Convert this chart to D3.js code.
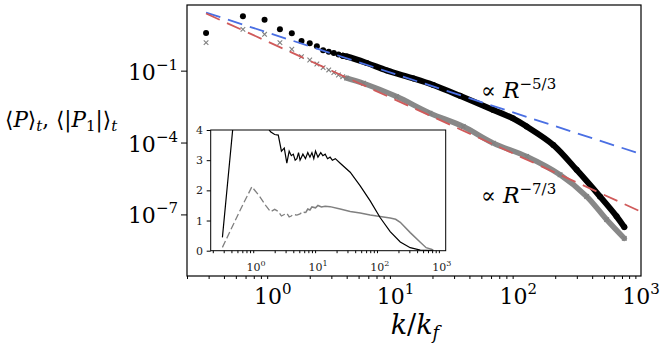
<!DOCTYPE html>
<html>
<head>
<meta charset="utf-8">
<script src="https://cdn.jsdelivr.net/npm/d3@7"></script>
<style>
body{margin:0;background:#fff;}
svg{display:block;}
</style>
</head>
<body>
<script>
// k/kf for the first (resolved) shells
var kLow = [0.286, 0.571, 0.857, 1.143, 1.429, 1.714, 2.0, 2.286, 2.571, 2.857, 3.143, 3.429, 3.714];
var pLow = [3.72, 18.5, 13.3, 5.31, 3.61, 1.73, 1.39, 1.04, 0.708, 0.619, 0.55, 0.473, 0.422];
var p1Low = [1.47, 5.31, 3.29, 1.47, 0.78, 0.383, 0.279, 0.19, 0.133, 0.107, 0.0826, 0.066, 0.056];

// dense part of <P>_t (black)
var kBand = [3.714, 4.0, 5.83, 8.48, 14, 20.3, 33.5, 62.6, 90.5, 117, 193, 299, 463, 632, 731];
var pBand = [0.422, 0.389, 0.209, 0.102, 0.0473, 0.0251, 0.00891, 0.00229, 0.00102, 0.000468, 7.94e-5, 7.24e-6, 5.62e-7, 8.32e-8, 2.95e-8];

// dense part of <|P1|>_t (grey)
var kBand1 = [4.0, 5.47, 10.2, 19.1, 35.6, 62.6, 117, 219, 361, 525, 731];
var p1Band = [0.049, 0.0299, 0.00826, 0.00168, 0.000465, 9.44e-5, 2.61e-5, 4.51e-6, 5.62e-7, 6.03e-8, 1.0e-8];

// reference slopes
var guideK = [0.286, 1000];
var guide53 = [26.6, 3.3e-5];
var guide73 = [24.2, 1.3e-7];

// inset: compensated spectra
var insetK = [0.286, 0.571, 0.857, 1.143, 1.429, 1.714, 2.0, 2.286, 2.571, 2.857, 3.143, 3.429, 3.714, 4.0, 4.286, 4.571, 4.857, 5.143, 5.714, 6.286, 6.857, 7.43, 8.0, 8.57, 9.14, 10, 11.1, 12, 13.1, 14.3, 15.7, 17.1, 19.1, 22.9, 33.2, 48.2, 69.9, 101, 147, 214, 310, 451, 731];
var insetP = [0.44, 6.9, 9.0, 7.0, 4.18, 3.94, 3.85, 3.83, 3.3, 3.4, 2.9, 3.3, 3.15, 3.2, 3.0, 3.05, 3.25, 3.0, 3.2, 3.05, 3.25, 3.1, 3.25, 3.05, 3.3, 3.1, 3.25, 3.15, 3.2, 3.05, 3.1, 3.0, 3.05, 2.9, 2.6, 2.15, 1.65, 1.1, 0.63, 0.29, 0.1, 0.02, 0.0];
var insetK1 = [0.286, 0.571, 0.857, 1.143, 1.429, 1.714, 2.0, 2.286, 2.571, 2.857, 3.143, 3.429, 3.714, 4.0, 4.571, 5.143, 5.714, 6.286, 6.857, 7.43, 8.0, 9.14, 10, 11.4, 13.1, 15.7, 22.9, 33.2, 48.2, 69.9, 101, 147, 180, 214, 310, 451, 560, 700, 731];
var insetP1 = [0.11, 1.4, 2.12, 1.8, 1.5, 1.29, 1.37, 1.3, 1.15, 1.2, 1.24, 1.12, 1.15, 1.2, 1.18, 1.22, 1.3, 1.25, 1.38, 1.35, 1.45, 1.42, 1.5, 1.45, 1.47, 1.46, 1.38, 1.3, 1.25, 1.18, 1.13, 1.08, 1.04, 0.94, 0.6, 0.28, 0.1, 0.04, 0.03];

var xMajor = [1, 10, 100, 1000];
var yMajor = [1e-1, 1e-4, 1e-7];
var yExp = ["\u22121", "\u22124", "\u22127"];
var xExp = ["0", "1", "2", "3"];
var insetYTicks = [0, 1, 2, 3, 4];

var serif = "DejaVu Serif";
var width = 664, height = 348;
var svg = d3.select("body").append("svg").attr("width", width).attr("height", height)
  .style("font-family", serif);

var x = d3.scaleLog().domain([0.2, 1000]).range([187, 641]);
var y = d3.scaleLog().domain([Math.pow(10, -9.57), Math.pow(10, 1.74)]).range([276, 5]);

svg.append("clipPath").attr("id", "mainclip")
  .append("rect").attr("x", 187).attr("y", 5).attr("width", 454).attr("height", 271);

var plot = svg.append("g").attr("clip-path", "url(#mainclip)");

function pts(ks, vs) { return ks.map(function(k, i){ return [k, vs[i]]; }); }

var line = d3.line().x(function(d){ return x(d[0]); }).y(function(d){ return y(d[1]); })
  .curve(d3.curveCatmullRom);

// grey |P1| band and crosses
plot.append("path").attr("d", line(pts(kBand1, p1Band)))
  .attr("fill", "none").attr("stroke", "#888").attr("stroke-width", 5.5)
  .attr("stroke-linecap", "round").attr("stroke-linejoin", "round");
plot.selectAll(".cross").data(pts(kLow, p1Low).concat(pts(kBand1, p1Band)))
  .enter().append("path").attr("class", "cross")
  .attr("transform", function(d){ return "translate(" + x(d[0]) + "," + y(d[1]) + ")"; })
  .attr("d", "M-2.3,-2.3L2.3,2.3M-2.3,2.3L2.3,-2.3")
  .attr("stroke", "#808080").attr("stroke-width", 1.1);

// black P band and dots
plot.append("path").attr("d", line(pts(kBand, pBand)))
  .attr("fill", "none").attr("stroke", "#000").attr("stroke-width", 6)
  .attr("stroke-linecap", "round").attr("stroke-linejoin", "round");
plot.selectAll(".dot").data(pts(kLow, pLow).concat(pts(kBand, pBand)))
  .enter().append("circle").attr("class", "dot")
  .attr("cx", function(d){ return x(d[0]); })
  .attr("cy", function(d){ return y(d[1]); })
  .attr("r", 3).attr("fill", "#000");

// guide lines
var straight = d3.line().x(function(d){ return x(d[0]); }).y(function(d){ return y(d[1]); });
plot.append("path").attr("d", straight(pts(guideK, guide53)))
  .attr("fill", "none").attr("stroke", "#4a6fe3").attr("stroke-width", 1.8).attr("stroke-dasharray", "15,8");
plot.append("path").attr("d", straight(pts(guideK, guide73)))
  .attr("fill", "none").attr("stroke", "#d05a5a").attr("stroke-width", 1.8).attr("stroke-dasharray", "15,8");

// frame
svg.append("rect").attr("x", 187).attr("y", 5).attr("width", 454).attr("height", 271)
  .attr("fill", "none").attr("stroke", "#000").attr("stroke-width", 1.2);

// x axis
var minorX = x.ticks().filter(function(v){ return xMajor.indexOf(v) < 0; });
var xAx = svg.append("g").attr("transform", "translate(0,276)");
xAx.call(d3.axisBottom(x).tickValues(xMajor).tickSize(5).tickFormat(""));
xAx.call(d3.axisBottom(x).tickValues(minorX).tickSize(3).tickFormat(""));
xAx.selectAll(".domain").remove();
xAx.selectAll("line").attr("stroke-width", 1);

xMajor.forEach(function(v, i){
  var t = svg.append("text").attr("x", x(v)).attr("y", 304).attr("text-anchor", "middle")
    .style("font-family", serif).attr("font-size", 22).text("10");
  t.append("tspan").attr("dy", -10).attr("font-size", 15).text(xExp[i]);
});

// y axis
var yAx = svg.append("g").attr("transform", "translate(187,0)");
yAx.call(d3.axisLeft(y).tickValues(yMajor).tickSize(6).tickFormat(""));
yAx.selectAll(".domain").remove();
yAx.selectAll("line").attr("stroke-width", 1);
yMajor.forEach(function(v, i){
  var t = svg.append("text").attr("x", 178).attr("y", y(v) + 9).attr("text-anchor", "end")
    .style("font-family", serif).attr("font-size", 22).text("10");
  t.append("tspan").attr("dy", -10).attr("font-size", 15).text(yExp[i]);
});

// axis labels
var xl = svg.append("text").attr("x", 415).attr("y", 334).attr("text-anchor", "middle")
  .style("font-family", serif).attr("font-size", 27);
xl.append("tspan").attr("font-style", "italic").text("k");
xl.append("tspan").text("/");
xl.append("tspan").attr("font-style", "italic").text("k");
xl.append("tspan").attr("font-style", "italic").attr("font-size", 18).attr("dy", 5).text("f");

var yl = svg.append("text").attr("x", 5).attr("y", 127).style("font-family", serif).attr("font-size", 21.5);
yl.append("tspan").text("\u27E8");
yl.append("tspan").attr("font-style", "italic").text("P");
yl.append("tspan").text("\u27E9");
yl.append("tspan").attr("font-style", "italic").attr("font-size", 15).attr("dy", 4).text("t");
yl.append("tspan").attr("dy", -4).text(", \u27E8|");
yl.append("tspan").attr("font-style", "italic").text("P");
yl.append("tspan").attr("font-size", 15).attr("dy", 4).text("1");
yl.append("tspan").attr("dy", -4).text("|\u27E9");
yl.append("tspan").attr("font-style", "italic").attr("font-size", 15).attr("dy", 4).text("t");

// annotations
function propTo(xp, yp, exp) {
  var t = svg.append("text").attr("x", xp).attr("y", yp).style("font-family", serif).attr("font-size", 22);
  t.append("tspan").text("\u221D ");
  t.append("tspan").attr("font-style", "italic").text("R");
  t.append("tspan").attr("dy", -9).attr("font-size", 15).text(exp);
}
propTo(481, 98, "\u22125/3");
propTo(481, 203, "\u22127/3");

// inset
var xi = d3.scaleLog().domain([0.185, 1160]).range([210.7, 445.7]);
var yi = d3.scaleLinear().domain([0, 4]).range([250.7, 130]);

svg.append("rect").attr("x", 210.7).attr("y", 130).attr("width", 235).attr("height", 120.7)
  .attr("fill", "#fff");
svg.append("clipPath").attr("id", "insetclip")
  .append("rect").attr("x", 210.7).attr("y", 130).attr("width", 235).attr("height", 120.7);

var ig = svg.append("g").attr("clip-path", "url(#insetclip)");
var iline = d3.line().x(function(d){ return xi(d[0]); }).y(function(d){ return yi(d[1]); });
var greyPts = pts(insetK1, insetP1);
// dashes only show where the signal is smooth; the noisy tail reads as solid
ig.append("path").attr("d", iline(greyPts.filter(function(d){ return d[0] <= 6.3; })))
  .attr("fill", "none").attr("stroke", "#808080").attr("stroke-width", 1.3).attr("stroke-dasharray", "7,3");
ig.append("path").attr("d", iline(greyPts.filter(function(d){ return d[0] >= 6.2; })))
  .attr("fill", "none").attr("stroke", "#808080").attr("stroke-width", 1.5);
ig.append("path").attr("d", iline(pts(insetK, insetP)))
  .attr("fill", "none").attr("stroke", "#000").attr("stroke-width", 1.2);

svg.append("rect").attr("x", 210.7).attr("y", 130).attr("width", 235).attr("height", 120.7)
  .attr("fill", "none").attr("stroke", "#000").attr("stroke-width", 1);

var ixAx = svg.append("g").attr("transform", "translate(0,250.7)");
var iMinor = xi.ticks().filter(function(v){ return xMajor.indexOf(v) < 0; });
ixAx.call(d3.axisBottom(xi).tickValues(xMajor).tickSize(4).tickFormat(""));
ixAx.call(d3.axisBottom(xi).tickValues(iMinor).tickSize(2.5).tickFormat(""));
ixAx.selectAll(".domain").remove();
xMajor.forEach(function(v, i){
  var t = svg.append("text").attr("x", xi(v)).attr("y", 271).attr("text-anchor", "middle")
    .style("font-family", serif).attr("font-size", 11).attr("fill", "#222").text("10");
  t.append("tspan").attr("dy", -5).attr("font-size", 8).text(xExp[i]);
});

var iyAx = svg.append("g").attr("transform", "translate(210.7,0)");
iyAx.call(d3.axisLeft(yi).tickValues(insetYTicks).tickSize(4).tickFormat(""));
iyAx.selectAll(".domain").remove();
insetYTicks.forEach(function(v){
  svg.append("text").attr("x", 203).attr("y", yi(v) + 4).attr("text-anchor", "end")
    .style("font-family", serif).attr("font-size", 11).attr("fill", "#222").text(v);
});
</script>
</body>
</html>
